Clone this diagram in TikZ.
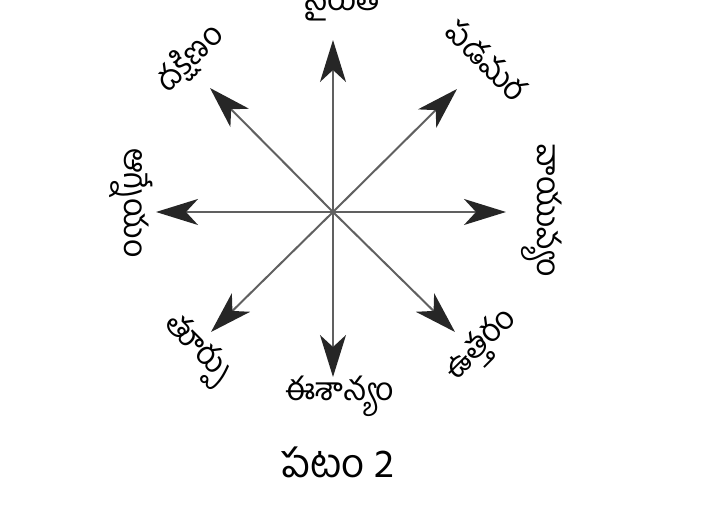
\documentclass[tikz,border=0pt]{standalone}
\usepackage{fontspec}
\newfontfamily\tel[Script=Telugu]{Hind Guntur}
\usetikzlibrary{arrows.meta}

\begin{document}
\begin{tikzpicture}[x=0.5pt, y=-0.5pt,
    dirarrow/.style={draw=gray!75!black, line width=1pt,
        -{Stealth[length=21pt, width=13pt, inset=6pt, color=black!85]}},
    dirlabel/.style={font=\tel\fontsize{16}{18}\selectfont, inner sep=0pt}]
    \useasboundingbox (0,0) rectangle (720,523);
    \clip (0,0) rectangle (720,523);

    % centre and arrow tips
    \coordinate (o) at (333,212);
    \coordinate (n)  at (333,40);
    \coordinate (s)  at (333,377);
    \coordinate (w)  at (156,212);
    \coordinate (e)  at (506,212);
    \coordinate (nw) at (210,88);
    \coordinate (ne) at (457,89);
    \coordinate (sw) at (211,332);
    \coordinate (se) at (455,332);

    \foreach \tip in {n,s,w,e,nw,ne,sw,se} \draw[dirarrow] (o) -- (\tip);

    % direction names
    \node[dirlabel] (lbln)  at (343,4)   {నైరుతి};
    \node[dirlabel, rotate=45]  (lblnw) at (190,58)  {దక్షిణం};
    \node[dirlabel, rotate=-45] (lblne) at (487,60)  {పడమర};
    \node[dirlabel, rotate=-90] (lble)  at (542,211) {వాయువ్యం};
    \node[dirlabel, rotate=-90] (lblw)  at (131,203) {ఆగ్నేయం};
    \node[dirlabel, rotate=-45] (lblsw) at (196,350) {తూర్పు};
    \node[dirlabel, rotate=45]  (lblse) at (482,346) {ఉత్తరం};
    \node[dirlabel] (lbls)  at (340,396) {ఈశాన్యం};

    \node[font=\tel\fontsize{20}{24}\selectfont, inner sep=0pt] (caption) at (338,462) {పటం 2};
\end{tikzpicture}
\end{document}
